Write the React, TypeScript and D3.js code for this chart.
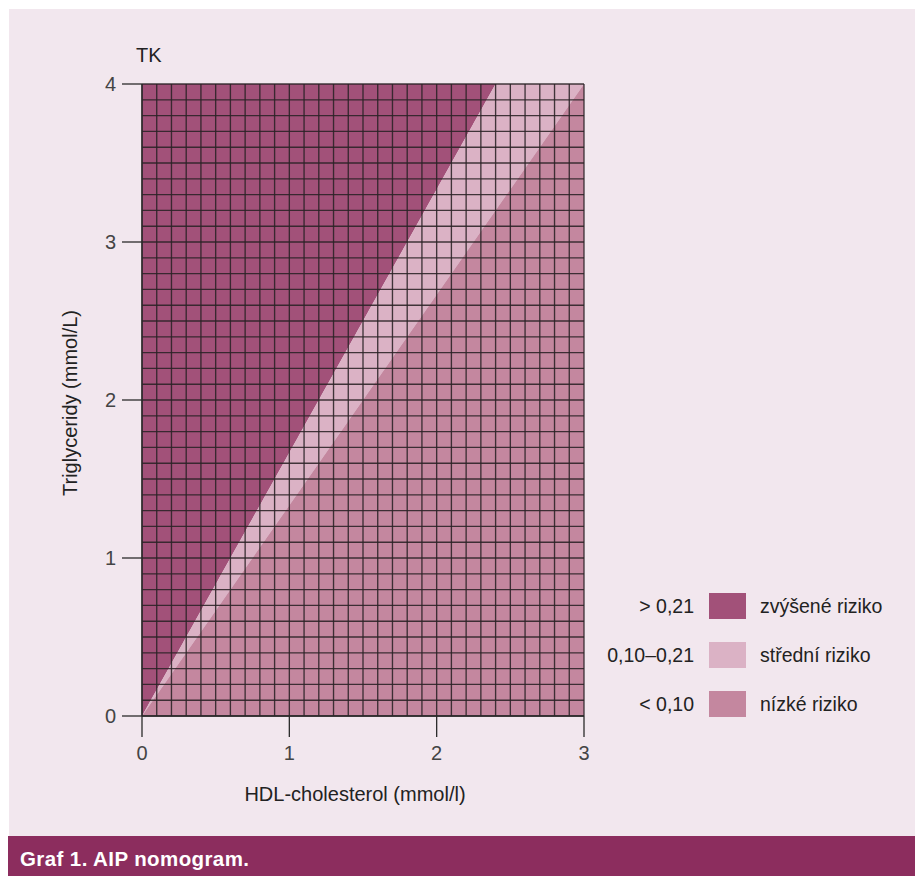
import React from "react";
import * as d3 from "d3";

// Data
const xDomain = [0, 3];
const yDomain = [0, 4];
const xTicks = [0, 1, 2, 3];
const yTicks = [0, 1, 2, 3, 4];
const gridStep = 0.1;
// Region boundaries (HDL, TG)
const upperBoundary: [number, number][] = [[0, 0], [2.4, 4]];
const lowerBoundary: [number, number][] = [[0, 0], [3, 4]];
const legendRanges = ["> 0,21", "0,10\u20130,21", "< 0,10"];
const legendLabels = ["zvýšené riziko", "střední riziko", "nízké riziko"];
const regionColors = ["#a25179", "#dbb2c5", "#c4879f"];

const W = 915;
const H = 876;
const font = "'Liberation Sans', Arial, Helvetica, sans-serif";

export default function App() {
  const x = d3.scaleLinear().domain(xDomain).range([142, 584]);
  const y = d3.scaleLinear().domain(yDomain).range([716, 84]);
  const line = d3.line<[number, number]>().x((d) => x(d[0])).y((d) => y(d[1]));

  const xMax = xDomain[1];
  const yMax = yDomain[1];
  const darkPoly: [number, number][] = [[0, 0], upperBoundary[1], [0, yMax]];
  const midPoly: [number, number][] = [[0, 0], lowerBoundary[1], [xMax, yMax], upperBoundary[1]];
  const lowPoly: [number, number][] = [[0, 0], [xMax, 0], lowerBoundary[1]];
  const polyPath = (pts: [number, number][]) => line(pts) + "Z";

  const nx = Math.round((xDomain[1] - xDomain[0]) / gridStep);
  const ny = Math.round((yDomain[1] - yDomain[0]) / gridStep);
  const gx = d3.range(nx + 1).map((i) => xDomain[0] + i * gridStep);
  const gy = d3.range(ny + 1).map((i) => yDomain[0] + i * gridStep);

  return (
    <div style={{ position: "absolute", left: 0, top: 0 }}>
      <svg width={W} height={H} style={{ display: "block" }}>
        <rect x={9} y={9} width={W - 9} height={836 - 9} fill="#f2e7ee" />
        <rect x={8} y={836} width={W - 8} height={H - 836} fill="#8c2d5e" />
        <text x={20} y={866} fill="#ffffff" fontFamily={font} fontWeight="bold" fontSize={20.5} letterSpacing={0.4}>
          Graf 1. AIP nomogram.
        </text>

        {/* regions */}
        <path d={polyPath(darkPoly)} fill={regionColors[0]} />
        <path d={polyPath(midPoly)} fill={regionColors[1]} />
        <path d={polyPath(lowPoly)} fill={regionColors[2]} />

        {/* grid */}
        <g stroke="#2a2226" strokeOpacity={0.88} strokeWidth={1.35}>
          {gx.map((v, i) => (
            <line key={"gx" + i} x1={x(v)} x2={x(v)} y1={y(yDomain[0])} y2={y(yDomain[1])} />
          ))}
          {gy.map((v, i) => (
            <line key={"gy" + i} x1={x(xDomain[0])} x2={x(xDomain[1])} y1={y(v)} y2={y(v)} />
          ))}
        </g>

        {/* axes */}
        <g stroke="#2a2a2a" strokeWidth={1.3}>
          <line x1={x(0)} x2={x(0)} y1={y(yDomain[1])} y2={y(0)} />
          <line x1={x(0)} x2={x(xDomain[1])} y1={y(0)} y2={y(0)} />
          {yTicks.map((t) => (
            <line key={"yt" + t} x1={x(0) - 20} x2={x(0)} y1={y(t)} y2={y(t)} />
          ))}
          {xTicks.map((t) => (
            <line key={"xt" + t} x1={x(t)} x2={x(t)} y1={y(0)} y2={y(0) + 21} />
          ))}
        </g>
        {yTicks.map((t) => (
          <text
            key={"yl" + t}
            x={x(0) - 26}
            y={y(t)}
            dy="0.35em"
            textAnchor="end"
            fontFamily={font}
            fontSize={20}
            fill="#444"
          >
            {t}
          </text>
        ))}
        {xTicks.map((t) => (
          <text
            key={"xl" + t}
            x={x(t)}
            y={760}
            textAnchor="middle"
            fontFamily={font}
            fontSize={20}
            fill="#444"
          >
            {t}
          </text>
        ))}
        <text x={136} y={62} fontFamily={font} fontSize={20} fill="#222">
          TK
        </text>
        <text
          transform={`translate(77, 403) rotate(-90)`}
          textAnchor="middle"
          fontFamily={font}
          fontSize={20}
          fill="#222"
        >
          Triglyceridy (mmol/L)
        </text>
        <text x={355} y={801} textAnchor="middle" fontFamily={font} fontSize={20} fill="#222">
          HDL-cholesterol (mmol/l)
        </text>

        {/* legend */}
        {legendLabels.map((lab, i) => {
          const cy = 606 + i * 49;
          return (
            <g key={"lg" + i}>
              <text x={694} y={cy} dy="0.35em" textAnchor="end" fontFamily={font} fontSize={19.5} fill="#222">
                {legendRanges[i]}
              </text>
              <rect x={709} y={cy - 13} width={37} height={26} fill={regionColors[i]} />
              <text x={760} y={cy} dy="0.35em" fontFamily={font} fontSize={19.5} fill="#222">
                {lab}
              </text>
            </g>
          );
        })}
      </svg>
    </div>
  );
}
